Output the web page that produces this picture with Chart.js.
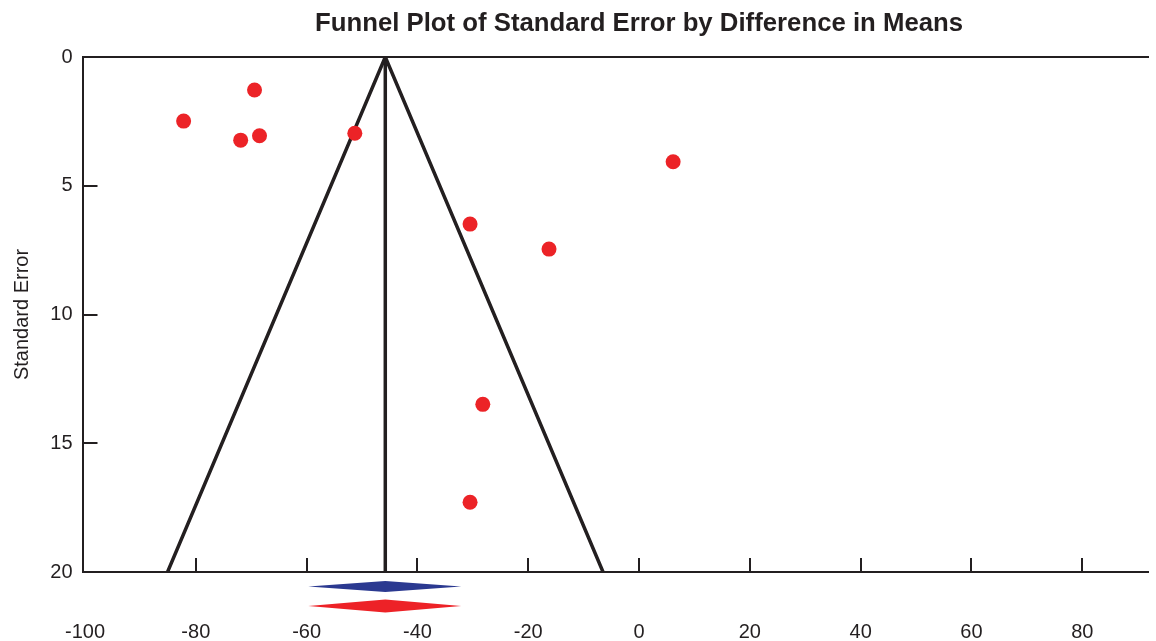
<!DOCTYPE html>
<html>
<head>
<meta charset="utf-8">
<title>Funnel Plot of Standard Error by Difference in Means</title>
<script src="https://cdn.jsdelivr.net/npm/chart.js@4.4.1/dist/chart.umd.min.js"></script>
<style>
  html, body { margin: 0; padding: 0; background: #fff; overflow: hidden; }
  #wrap { width: 1156px; height: 641px; position: relative; }
  #funnel { display: block; }
</style>
</head>
<body>
<div id="wrap"><canvas id="funnel"></canvas></div>
<script>
// study points: difference in means vs standard error
const diffMeans = [-82.2, -69.4, -71.9, -68.5, -51.3, 6.15, -30.5, -16.25, -28.2, -30.5];
const stdError = [2.49, 1.28, 3.23, 3.06, 2.96, 4.07, 6.49, 7.46, 13.49, 17.29];

// funnel (pseudo 95% limits) and combined effect line
const funnelX = [-85.1, -45.8, -6.5];
const funnelY = [20, 0, 20];
const centerX = [-45.8, -45.8];
const centerY = [0, 20];

// summary diamonds: observed (blue) and imputed (red)
const diamondLow = [-59.7, -59.7];
const diamondMid = [-45.8, -45.8];
const diamondHigh = [-32.1, -32.1];
const diamondColors = ['#2b3990', '#ed2227'];

const xTicks = [-100, -80, -60, -40, -20, 0, 20, 40, 60, 80, 100];
const yTicks = [0, 5, 10, 15, 20];

const chartTitle = 'Funnel Plot of Standard Error by Difference in Means';

const ink = '#231f20';
const font = "'Liberation Sans', Arial, sans-serif";

// the source plot ran to +100 and was cropped near +92
const xMin = -100.45;
const xMax = 91.95;

const toPoints = (xs, ys) => xs.map((v, i) => ({ x: v, y: ys[i] }));

// title centred over the full (uncropped) plot, i.e. over x = 0
const titlePlugin = {
  id: 'centredTitle',
  afterDraw(chart) {
    const { ctx } = chart;
    const x = chart.scales.x;
    ctx.save();
    ctx.fillStyle = ink;
    ctx.font = 'bold 25.75px ' + font;
    ctx.textAlign = 'center';
    ctx.textBaseline = 'middle';
    ctx.fillText(chartTitle, x.getPixelForValue(0), 23.5);
    ctx.restore();
  }
};

// inward tick marks + diamonds under the x axis
const extrasPlugin = {
  id: 'extras',
  afterDraw(chart) {
    const { ctx, chartArea } = chart;
    const x = chart.scales.x;
    const y = chart.scales.y;
    ctx.save();
    ctx.strokeStyle = ink;
    ctx.lineWidth = 2;
    xTicks.forEach(v => {
      if (v <= -100 || v >= xMax) return;
      const px = Math.round(x.getPixelForValue(v));
      ctx.beginPath();
      ctx.moveTo(px, chartArea.bottom);
      ctx.lineTo(px, chartArea.bottom - 14);
      ctx.stroke();
    });
    yTicks.forEach(v => {
      if (v <= 0 || v >= 20) return;
      const py = Math.round(y.getPixelForValue(v));
      ctx.beginPath();
      ctx.moveTo(chartArea.left, py);
      ctx.lineTo(chartArea.left + 15, py);
      ctx.stroke();
    });

    const rowOffset = [14.5, 34];
    const halfH = [5.5, 6.5];
    diamondMid.forEach((mid, i) => {
      const cy = chartArea.bottom + rowOffset[i];
      const lo = x.getPixelForValue(diamondLow[i]);
      const hi = x.getPixelForValue(diamondHigh[i]);
      const m = x.getPixelForValue(mid);
      ctx.fillStyle = diamondColors[i];
      ctx.beginPath();
      ctx.moveTo(lo, cy);
      ctx.lineTo(m, cy - halfH[i]);
      ctx.lineTo(hi, cy);
      ctx.lineTo(m, cy + halfH[i]);
      ctx.closePath();
      ctx.fill();
    });
    ctx.restore();
  }
};

const ctx = document.getElementById('funnel').getContext('2d');
new Chart(ctx, {
  type: 'scatter',
  data: {
    datasets: [
      {
        label: 'Studies',
        data: toPoints(diffMeans, stdError),
        backgroundColor: '#ec2327',
        borderWidth: 0,
        pointRadius: 7.5,
        order: 0
      },
      {
        label: 'Funnel',
        data: toPoints(funnelX, funnelY),
        showLine: true,
        borderColor: ink,
        borderWidth: 3.5,
        pointRadius: 0,
        order: 1
      },
      {
        label: 'Combined',
        data: toPoints(centerX, centerY),
        showLine: true,
        borderColor: ink,
        borderWidth: 3.5,
        pointRadius: 0,
        order: 2
      }
    ]
  },
  options: {
    responsive: true,
    maintainAspectRatio: false,
    animation: false,
    // the plot runs off the right edge of the picture
    layout: { padding: { top: 57, left: 0, right: -7, bottom: 0 } },
    plugins: {
      legend: { display: false },
      tooltip: { enabled: false },
      title: { display: false }
    },
    scales: {
      x: {
        type: 'linear',
        position: 'bottom',
        min: xMin,
        max: xMax,
        afterBuildTicks: s => { s.ticks = xTicks.filter(v => v <= xMax).map(v => ({ value: v })); },
        afterFit: s => {
          s.height = 69;
          s.paddingLeft = 0;
          s.paddingRight = 0;
        },
        grid: { drawOnChartArea: false, drawTicks: false },
        border: { display: true, color: ink, width: 2 },
        ticks: {
          autoSkip: false,
          maxRotation: 0,
          padding: 48,
          color: ink,
          font: { family: font, size: 20 }
        }
      },
      x2: {
        type: 'linear',
        position: 'top',
        min: xMin,
        max: xMax,
        afterFit: s => {
          s.height = 0;
          s.paddingLeft = 0;
          s.paddingRight = 0;
        },
        grid: { display: false, drawTicks: false },
        border: { display: true, color: ink, width: 2 },
        ticks: { display: false }
      },
      y: {
        type: 'linear',
        position: 'left',
        reverse: true,
        min: 0,
        max: 20,
        afterBuildTicks: s => { s.ticks = yTicks.map(v => ({ value: v })); },
        afterFit: s => { s.width = 82.5; },
        grid: { drawOnChartArea: false, drawTicks: false },
        border: { display: true, color: ink, width: 2 },
        ticks: {
          padding: 10,
          color: ink,
          font: { family: font, size: 20 }
        },
        title: {
          display: true,
          text: 'Standard Error',
          color: ink,
          font: { family: font, size: 20 },
          padding: { top: 10, bottom: 0 }
        }
      }
    }
  },
  plugins: [extrasPlugin, titlePlugin]
});
</script>
</body>
</html>
